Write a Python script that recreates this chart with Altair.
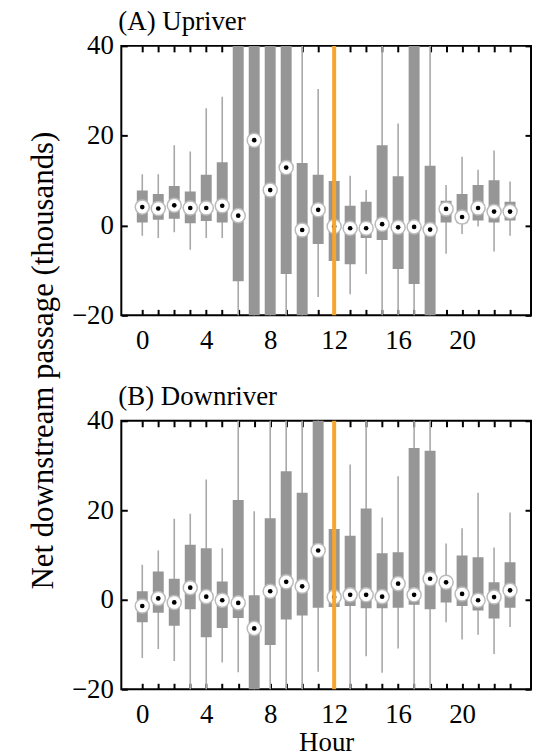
import altair as alt
import pandas as pd

hours = list(range(24))

# (A) Upriver
up_med = [4.1, 3.8, 4.5, 3.9, 3.9, 4.4, 2.2, 19.0, 7.9, 12.9, -1.0, 3.5,
          -0.2, -0.6, -0.6, 0.3, -0.4, -0.3, -0.9, 3.7, 1.9, 3.9, 3.1, 3.1]
up_q1 = [0.7, 1.3, 1.5, 0.5, 1.0, 0.7, -12.4, -45, -45, -10.8, -45, -4.1,
         -7.9, -8.6, -2.8, -3.2, -9.7, -13.0, -45, 0.7, 0.5, 1.1, 0.7, 1.1]
up_q3 = [7.8, 7.0, 8.8, 7.6, 11.3, 14.1, 45, 45, 45, 45, 13.9, 11.3,
         9.9, 4.4, 5.3, 17.9, 11.0, 45, 13.3, 5.5, 7.0, 9.0, 10.1, 5.3]
up_lo = [-2.3, -2.8, -1.5, -5.4, -2.8, -2.8, -50, -50, -50, -50, -50, -15.9,
         -14.0, -15.3, -10.8, -50, -50, -50, -50, -6.3, -1.9, -0.2, -5.8, -2.3]
up_hi = [11.4, 11.4, 17.9, 16.5, 26.1, 28.7, 50, 50, 50, 50, 50, 30.4,
         25.0, 11.1, 7.9, 50, 22.7, 50, 50, 9.0, 15.3, 12.4, 16.7, 9.8]

# (B) Downriver
dn_med = [-1.4, 0.3, -0.6, 2.7, 0.7, -0.1, -0.7, -6.4, 1.9, 4.0, 3.0, 11.0,
          0.6, 1.1, 1.1, 0.7, 3.6, 1.1, 4.7, 3.9, 1.3, -0.1, 0.6, 2.1]
dn_q1 = [-5.0, -2.9, -5.8, -2.1, -8.4, -6.3, -4.1, -45, -10.1, -4.4, -3.5, -1.8,
         -1.6, -1.4, -1.9, -1.9, -1.8, -1.1, -2.1, -0.6, -1.4, -2.4, -4.2, -1.8]
dn_q3 = [1.9, 6.3, 4.7, 12.3, 11.5, 4.1, 22.3, 1.0, 18.2, 28.7, 23.9, 45,
         15.8, 14.3, 20.4, 10.4, 10.6, 33.9, 33.3, 5.0, 9.9, 9.5, 3.9, 8.4]
dn_lo = [-13.0, -11.0, -13.7, -50, -50, -14.0, -16.2, -50, -50, -50, -50, -16.1,
         -15.0, -50, -12.6, -16.3, -10.9, -50, -50, -5.0, -8.9, -7.8, -12.1, -6.1]
dn_hi = [7.8, 11.0, 18.1, 19.2, 26.9, 11.5, 50, 19.8, 50, 50, 50, 50,
         25.0, 30.2, 50, 18.4, 27.6, 50, 50, 12.6, 16.0, 23.9, 11.7, 19.5]

noon = [12]
y_ticks = [-20, 0, 20, 40]

FONT = "Liberation Serif, Times New Roman, DejaVu Serif, serif"
GRAY = "#969696"
WHISK = "#a8a8a8"
ORANGE = "#f7a52e"


def panel(title, med, q1, q3, lo, hi, height, x_title, y_title):
    df = pd.DataFrame({"hour": hours, "med": med, "q1": q1, "q3": q3,
                       "lo": lo, "hi": hi})
    xs = alt.Scale(domain=[-1, 24], nice=False, zero=False)
    ys = alt.Scale(domain=[-20, 40], nice=False, zero=False)

    common_tick = dict(tickSize=alt.ExprRef("-6"), tickWidth=2,
                       tickColor="black", domain=False, grid=False)
    xb = dict(orient="bottom", values=hours,
              labelExpr="datum.value % 4 == 0 ? datum.label : ''",
              labelFont=FONT, labelFontSize=27, labelColor="black",
              labelPadding=18, labelFlush=False, **common_tick)
    if x_title:
        xb.update(title=x_title, titleFont=FONT, titleFontSize=27,
                  titleFontWeight="normal", titleColor="black", titlePadding=3)
    else:
        xb.update(title=None)
    yl = dict(orient="left", values=y_ticks, labelFont=FONT, labelFontSize=27,
              labelColor="black", labelPadding=14, labelFlush=False, **common_tick)
    if y_title:
        yl.update(title=y_title, titleFont=FONT, titleFontSize=31,
                  titleFontWeight="normal", titleColor="black", titleAngle=-90,
                  titleX=-78, titleY=316, titleAlign="center",
                  titleBaseline="middle")
    else:
        yl.update(title=None)
    xt = dict(orient="top", values=hours, labels=False, title=None, **common_tick)
    yr = dict(orient="right", values=y_ticks, labels=False, title=None, **common_tick)

    base = alt.Chart(df)
    whisk = base.mark_rule(clip=True, color=WHISK, strokeWidth=1.6).encode(
        x=alt.X("hour:Q", scale=xs, axis=alt.Axis(**xb)),
        y=alt.Y("lo:Q", scale=ys, axis=alt.Axis(**yl)),
        y2="hi:Q",
    )
    box = base.mark_bar(clip=True, color=GRAY, size=11).encode(
        x=alt.X("hour:Q", scale=xs, axis=alt.Axis(**xt)),
        y=alt.Y("q1:Q", scale=ys, axis=alt.Axis(**yr)),
        y2="q3:Q",
    )
    ring = base.mark_point(shape="circle", filled=True, fill="white",
                           stroke="#bbbbbb", strokeWidth=1.5, size=200,
                           opacity=1).encode(
        x=alt.X("hour:Q", scale=xs, axis=None),
        y=alt.Y("med:Q", scale=ys, axis=None),
    )
    dot = base.mark_point(shape="circle", filled=True, color="black",
                          size=22, opacity=1).encode(
        x=alt.X("hour:Q", scale=xs, axis=None),
        y=alt.Y("med:Q", scale=ys, axis=None),
    )
    line = alt.Chart(pd.DataFrame({"h": noon})).mark_rule(
        color=ORANGE, strokeWidth=4).encode(
        x=alt.X("h:Q", scale=xs, axis=None),
    )
    return alt.layer(whisk, box, ring, dot, line).resolve_axis(
        x="independent", y="independent"
    ).properties(
        width=412, height=height,
        title=alt.TitleParams(title, anchor="start", frame="group", font=FONT,
                              fontSize=27, fontWeight="normal", color="black",
                              offset=-4, dx=-3),
    )


pa = panel("(A) Upriver", up_med, up_q1, up_q3, up_lo, up_hi, 271, None,
           "Net downstream passage (thousands)")
pb = panel("(B) Downriver", dn_med, dn_q1, dn_q3, dn_lo, dn_hi, 270, "Hour", None)

chart = alt.vconcat(pa, pb, spacing=106, bounds="flush").properties(
    padding={"left": 27, "top": 5, "right": 0, "bottom": 0},
    background="white",
).configure_view(stroke="black", strokeWidth=2)

chart.save("out.html", embed_options={"renderer": "svg", "actions": False})
